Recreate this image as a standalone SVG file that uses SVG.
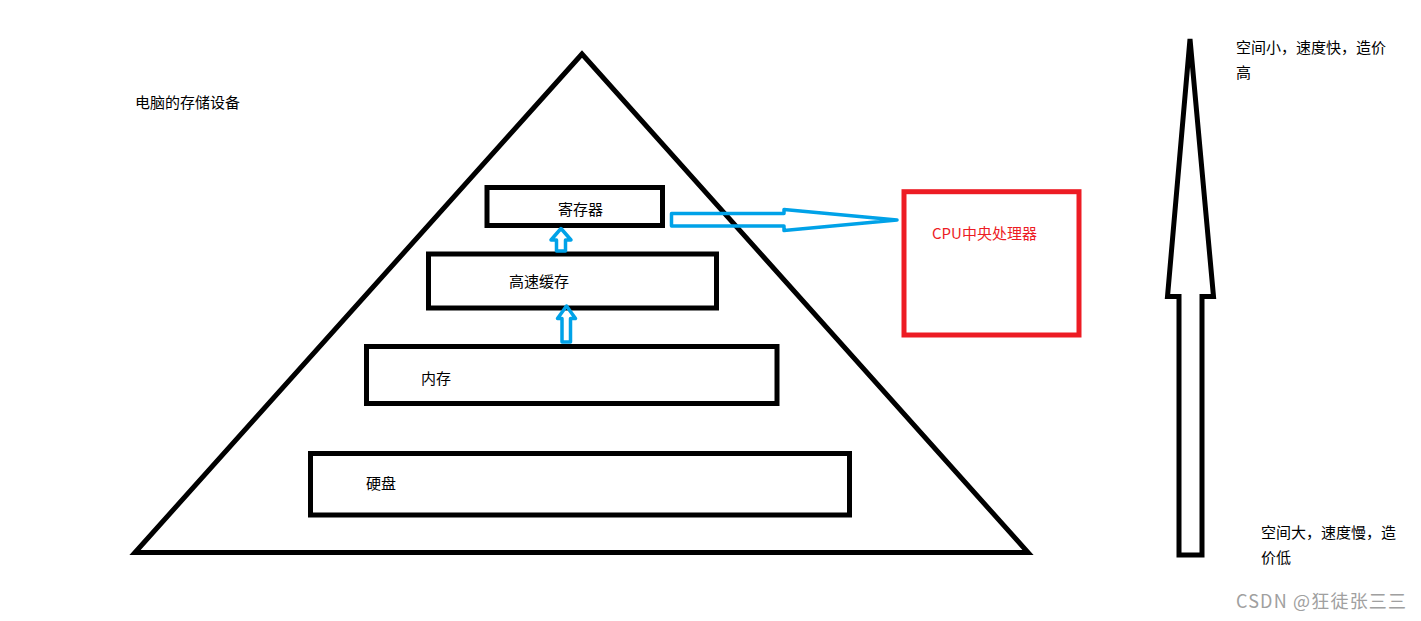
<svg xmlns="http://www.w3.org/2000/svg" width="1421" height="621" viewBox="0 0 1421 621">
<style>
.k{fill:none;stroke:#000;stroke-width:5;stroke-linejoin:miter}
.b{fill:none;stroke:#00a2e8;stroke-width:3.5;stroke-linejoin:round}
.t{font-family:"Noto Sans CJK SC","Noto Sans",sans-serif;font-size:15px;fill:#000}
</style>
<rect width="1421" height="621" fill="#fff"/>
<text class="t" x="135" y="108">电脑的存储设备</text>
<g id="pyramid"><polygon class="k" points="582,54 135,552.5 1028,552.5" stroke-linejoin="round"/></g>
<g id="register"><rect class="k" x="487" y="187.5" width="175.5" height="38"/><text class="t" x="558" y="215">寄存器</text></g>
<g id="cache"><rect class="k" x="428.5" y="254" width="288" height="54"/><text class="t" x="509" y="287">高速缓存</text></g>
<g id="memory"><rect class="k" x="366.5" y="346.5" width="410.5" height="57"/><text class="t" x="421" y="384">内存</text></g>
<g id="disk"><rect class="k" x="310.5" y="453.5" width="539" height="61.5"/><text class="t" x="366" y="489">硬盘</text></g>
<g id="cpu"><rect x="904" y="191.7" width="175" height="143.3" fill="none" stroke="#ed1c24" stroke-width="5"/><text class="t" x="932" y="239" fill="#ed1c24" style="fill:#ed1c24">CPU中央处理器</text></g>
<g id="connectors">
<path class="b" d="M561,228.5 L571,240 L565.5,240 L565.5,251 L556.5,251 L556.5,240 L551,240 Z"/>
<path class="b" d="M566.5,306 L575.5,318.5 L570.5,318.5 L570.5,342 L562,342 L562,318.5 L557.5,318.5 Z"/>
<path class="b" d="M671.5,213.5 L784,213.5 L784,209.5 L897,220 L784,230.5 L784,226 L671.5,226 Z"/>
</g>
<g id="scale">
<path class="k" d="M1190,39 L1213.5,296.5 L1202,296.5 L1202,555 L1179,555 L1179,296.5 L1167.5,296.5 Z"/>
<text class="t" x="1236" y="53">空间小，速度快，造价</text>
<text class="t" x="1236" y="78">高</text>
<text class="t" x="1261" y="538">空间大，速度慢，造</text>
<text class="t" x="1261" y="563">价低</text>
</g>
<text x="1236" y="608" font-family="'Noto Sans CJK SC','Noto Sans',sans-serif" font-size="18" fill="#a0a0a0" textLength="170">CSDN @狂徒张三三</text>
</svg>
